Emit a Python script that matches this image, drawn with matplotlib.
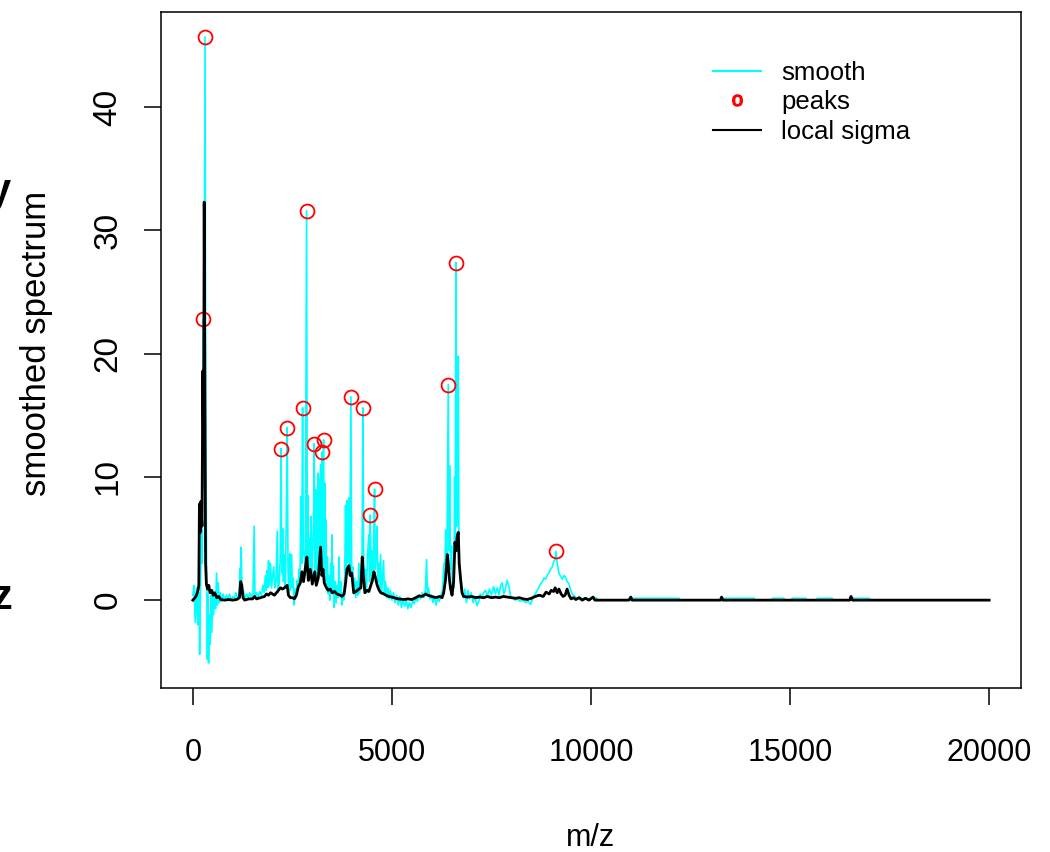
import matplotlib
matplotlib.use('Agg')
import matplotlib.pyplot as plt
from matplotlib.lines import Line2D

plt.rcParams['font.family'] = ['Liberation Sans', 'DejaVu Sans']

# smoothed spectrum (m/z, intensity)
smooth_pts = [
    (0, 0.4), (30, 1.2), (60, -1.8), (90, 1.0), (120, -2.0), (150, 0.6), (170, -4.4),
    (195, 1.8), (215, 6.5), (235, 3.0), (255, 22.8), (275, 9.0), (305, 45.7), (325, 14.0),
    (345, 2.5), (365, -4.8), (380, 0.5), (395, -5.1), (415, -1.2), (435, -3.6), (455, 0.4),
    (475, -2.6), (500, 0.8), (520, -1.2), (545, 0.5), (570, -0.7), (595, 2.2), (615, -0.4),
    (640, 1.4), (665, -0.2), (690, 0.6), (720, -0.1), (760, 0.5), (800, 0.0), (840, 0.4),
    (880, 0.1), (920, 0.5), (960, 0.0), (1000, 0.3),
    (1040, 0.1), (1080, 0.6), (1120, 0.1), (1160, 0.5), (1185, 2.6), (1200, 0.8), (1215, 4.3),
    (1235, 0.4), (1270, 0.8), (1310, 0.1), (1350, 0.5), (1390, 0.2), (1430, 0.6), (1470, 0.2),
    (1510, 0.5), (1540, 6.0), (1560, 0.3), (1600, 0.6), (1640, 0.2), (1680, 0.7), (1720, 0.4),
    (1760, 1.2), (1790, 0.6), (1820, 2.0), (1840, 0.8), (1860, 2.4), (1880, 1.0), (1900, 3.2),
    (1920, 1.2), (1950, 3.0), (1975, 1.0), (2000, 1.8),
    (2030, 2.7), (2060, 1.0), (2090, 1.6), (2120, 5.6), (2140, 0.6), (2170, 1.4), (2195, 3.5),
    (2215, 12.3), (2235, 2.2), (2255, 5.8), (2275, 1.5), (2300, 3.7), (2320, 1.0), (2345, 6.2),
    (2370, 14.0), (2390, 2.5), (2410, 0.6), (2435, 3.8), (2455, 0.8), (2480, 3.7), (2500, 1.0),
    (2520, 1.8), (2545, -0.4), (2565, 0.9), (2590, 0.2), (2615, 1.6), (2640, 0.8), (2665, 2.5),
    (2690, 1.2), (2715, 8.4), (2735, 3.0), (2756, 15.6), (2775, 4.0), (2800, 3.5), (2825, 2.0),
    (2856, 31.6), (2875, 3.5), (2890, 8.5), (2910, 2.0), (2930, 5.0), (2950, 2.5), (2970, 6.8),
    (2990, 1.5), (3010, 4.0),
    (3030, 6.0), (3048, 12.7), (3065, 2.0), (3085, 9.0), (3100, 1.6), (3120, 7.5), (3135, 2.5),
    (3150, 10.3), (3165, 3.0), (3180, 9.8), (3195, 2.4), (3210, 11.0), (3225, 3.5), (3241, 12.0),
    (3255, 3.0), (3270, 10.5), (3283, 13.0), (3300, 2.5), (3315, 9.5), (3330, 1.5), (3345, 6.5),
    (3360, 0.8), (3380, 3.5), (3400, 0.5), (3420, 2.0), (3440, 0.0), (3465, 3.0), (3480, 0.8),
    (3495, 5.3), (3510, 0.5), (3530, 2.8), (3550, -0.6), (3575, 1.5), (3600, -0.2), (3625, 1.2),
    (3650, 0.2), (3670, 3.5), (3690, 0.5), (3715, 1.5), (3740, -0.4), (3765, 0.6), (3790, 0.0),
    (3815, 2.0), (3835, 7.7), (3850, 2.5), (3870, 8.1), (3890, 3.0), (3920, 8.3), (3940, 2.5),
    (3970, 16.5), (3990, 2.0), (4015, 2.7), (4040, 0.5), (4065, 1.8), (4090, 0.2), (4115, 1.5),
    (4140, 0.4), (4170, 3.0), (4190, 0.6), (4220, 2.0), (4250, 3.5), (4271, 15.6), (4290, 3.7),
    (4310, 0.8), (4335, 2.5), (4360, 0.6), (4390, 3.8), (4420, 5.3), (4440, 1.5), (4455, 6.9),
    (4475, 2.0), (4500, 4.0), (4520, 1.5), (4545, 5.5), (4564, 9.0), (4580, 2.5), (4600, 3.5),
    (4623, 6.0), (4645, 1.5), (4665, 3.0), (4690, 0.8), (4715, 3.7), (4740, 0.5), (4765, 1.8),
    (4790, 3.2), (4810, 0.6), (4840, 1.5), (4870, 0.2), (4900, 1.0), (4930, 0.1), (4960, 0.8),
    (5000, 0.0), (5040, 0.6), (5080, -0.2), (5120, 0.4), (5160, -0.4), (5200, 0.3), (5240, -0.6),
    (5280, 0.1), (5320, -0.5), (5360, 0.0), (5400, -0.7), (5440, -0.2), (5480, -0.6), (5520, 0.0),
    (5560, -0.3), (5600, 0.2), (5640, -0.1), (5680, 0.4), (5720, 0.1), (5760, 0.6), (5800, 0.2),
    (5840, 0.8), (5870, 3.3), (5890, 0.6), (5920, 1.0), (5950, 0.1), (5990, 0.4), (6030, -0.2),
    (6070, 0.3), (6110, -0.4), (6150, 0.2), (6190, -0.1), (6230, 0.4), (6270, 0.8), (6306, 3.0),
    (6325, 1.5), (6348, 5.7), (6380, 3.0), (6415, 17.5), (6432, 4.0), (6449, 10.9), (6470, 2.5),
    (6499, 4.4), (6520, 1.0), (6540, 2.0), (6560, 1.0), (6574, 10.0), (6590, 4.0), (6605, 27.4),
    (6625, 6.0), (6645, 12.0), (6666, 19.8), (6685, 3.0), (6709, 1.7), (6750, 0.8), (6790, 0.2),
    (6830, 0.9), (6870, -0.2), (6910, 0.8), (6950, 0.1), (6990, 0.6), (7040, -0.2), (7090, 0.3),
    (7135, -0.45), (7180, -0.1), (7220, 0.5), (7260, 0.2), (7300, 0.6), (7353, 0.8), (7400, 0.3),
    (7450, 0.9), (7500, 0.4), (7550, 1.1), (7600, 0.5), (7646, 1.0), (7690, 0.4), (7730, 1.2),
    (7771, 1.4), (7810, 0.5), (7850, 0.9), (7890, 1.6), (7940, 1.1), (7980, 0.3), (8030, 0.2),
    (8090, 0.0), (8150, 0.1), (8220, -0.1), (8290, 0.0), (8360, -0.2), (8420, -0.1), (8480, -0.35),
    (8540, 0.2), (8600, 0.5), (8650, 0.8), (8700, 1.1), (8730, 1.3), (8780, 1.5), (8820, 1.8),
    (8860, 1.7), (8900, 2.0), (8940, 2.2), (8980, 2.5), (9028, 2.7), (9060, 3.1), (9095, 3.3),
    (9120, 3.96), (9150, 3.0), (9196, 2.2), (9240, 1.9), (9280, 1.7), (9320, 2.0), (9363, 1.85),
    (9400, 1.5), (9447, 1.35), (9490, 0.8), (9530, 0.5), (9600, 0.3), (9650, 0.1), (9700, 0.25),
    (9780, 0.1), (9866, 0.2), (9950, 0.05), (10050, 0.2), (10117, 0.2), (10200, 0.0),
    (11000, 0.0), (11030, 0.15), (12210, 0.15), (12230, 0.0), (13280, 0.0), (13300, 0.15),
    (14100, 0.15), (14120, 0.0), (14540, 0.0), (14550, 0.15), (14850, 0.15), (14860, 0.0),
    (15040, 0.0), (15050, 0.15), (15400, 0.15), (15410, 0.0), (15670, 0.0), (15680, 0.15),
    (16060, 0.15), (16070, 0.0), (16520, 0.0), (16530, 0.15), (16990, 0.15), (17000, 0.0),
    (20000, 0.0),
]

# local sigma (m/z, value)
sigma_pts = [
    (0, 0.0), (80, 0.3), (130, 0.8), (150, 1.2), (165, 7.8), (185, 5.5), (200, 8.0), (230, 6.0),
    (250, 18.6), (270, 12.0), (285, 32.3), (300, 18.6), (320, 3.0), (340, 1.3), (370, 0.9),
    (400, 1.2), (430, 0.6), (470, 0.8), (510, 0.4), (550, 0.6), (600, 0.2), (650, 0.3),
    (700, 0.05), (800, 0.0), (900, 0.05), (1000, 0.0), (1100, 0.05), (1170, 0.2), (1200, 1.5),
    (1230, 1.2), (1260, 0.2), (1300, 0.0), (1400, 0.1), (1500, 0.1), (1550, 0.3), (1600, 0.1),
    (1700, 0.2), (1800, 0.3), (1850, 0.5), (1900, 0.4), (1950, 0.6), (2000, 0.5), (2050, 0.4),
    (2100, 0.6), (2150, 0.8), (2200, 1.0), (2250, 0.9), (2300, 1.0), (2370, 1.2), (2400, 0.4),
    (2450, 0.2), (2500, 0.2), (2550, 0.1), (2600, 0.4), (2650, 1.1), (2700, 1.4), (2740, 2.3),
    (2780, 1.5), (2820, 2.5), (2864, 3.5), (2900, 1.6), (2950, 2.5), (3000, 1.3), (3060, 2.3),
    (3100, 1.2), (3150, 1.8), (3208, 4.3), (3240, 2.0), (3270, 2.5), (3300, 1.4), (3340, 1.1),
    (3400, 0.8), (3450, 0.9), (3500, 0.6), (3560, 0.7), (3620, 0.5), (3700, 0.4), (3745, 0.3),
    (3800, 0.5), (3840, 1.5), (3870, 2.5), (3920, 2.8), (3950, 2.0), (3990, 2.2), (4040, 0.6),
    (4100, 0.7), (4170, 0.9), (4220, 1.0), (4254, 3.5), (4280, 2.2), (4320, 0.6), (4380, 0.8),
    (4420, 0.7), (4460, 1.1), (4500, 1.5), (4548, 2.3), (4580, 1.9), (4630, 1.2), (4680, 0.8),
    (4720, 0.6), (4800, 0.5), (4850, 0.4), (4920, 0.3), (5000, 0.25), (5100, 0.15), (5170, 0.1),
    (5300, 0.05), (5400, 0.1), (5500, 0.05), (5600, 0.2), (5678, 0.35), (5760, 0.3), (5850, 0.5),
    (5900, 0.4), (6000, 0.3), (6100, 0.2), (6200, 0.3), (6260, 0.2), (6300, 0.6), (6348, 1.7),
    (6390, 3.7), (6420, 2.8), (6450, 1.5), (6474, 0.9), (6510, 0.4), (6550, 1.5), (6583, 4.7),
    (6610, 4.0), (6640, 5.2), (6666, 5.5), (6690, 3.0), (6720, 1.9), (6760, 0.6), (6800, 0.3),
    (6900, 0.25), (7000, 0.3), (7100, 0.2), (7200, 0.25), (7300, 0.2), (7400, 0.3), (7500, 0.2),
    (7600, 0.25), (7700, 0.2), (7800, 0.3), (7900, 0.25), (8000, 0.2), (8100, 0.15), (8200, 0.2),
    (8300, 0.1), (8400, 0.05), (8500, 0.15), (8600, 0.3), (8700, 0.4), (8800, 0.3), (8870, 0.65),
    (8950, 0.5), (9000, 0.8), (9060, 0.7), (9100, 1.0), (9150, 0.6), (9195, 0.9), (9250, 0.5),
    (9300, 0.3), (9350, 0.4), (9400, 0.9), (9450, 0.4), (9500, 0.1), (9560, 0.2), (9620, 0.05),
    (9700, 0.2), (9780, 0.0), (9860, 0.15), (9950, 0.0), (10050, 0.25), (10100, 0.0),
    (10950, 0.0), (11000, 0.25), (11030, 0.0), (13250, 0.0), (13280, 0.25), (13310, 0.0),
    (16500, 0.0), (16530, 0.3), (16570, 0.0), (20000, 0.0),
]

peak_mz = [255, 305, 2215, 2370, 2756, 2856, 3048, 3241, 3283, 3970, 4271, 4455, 4564,
           6415, 6605, 9120]
peak_int = [22.8, 45.7, 12.3, 14.0, 15.6, 31.6, 12.7, 12.0, 13.0, 16.5, 15.6, 6.9, 9.0,
            17.5, 27.4, 3.96]

x_ticks = [0, 5000, 10000, 15000, 20000]
y_ticks = [0, 10, 20, 30, 40]

smooth_mz, smooth_int = zip(*smooth_pts)
sigma_mz, sigma_val = zip(*sigma_pts)

fig = plt.figure(figsize=(10.5, 8.52), dpi=100)
ax = fig.add_axes([161 / 1050, 1 - 688 / 852, 860 / 1050, 676 / 852])

ax.plot(smooth_mz, smooth_int, color='cyan', lw=1.2)
ax.plot(peak_mz, peak_int, ls='none', marker='o', ms=10, mfc='none', mec='red', mew=1.3)
ax.plot(sigma_mz, sigma_val, color='black', lw=2.0)

ax.set_xlim(-800, 20800)
ax.set_ylim(-7.13, 47.73)
ax.set_xticks(x_ticks)
ax.set_yticks(y_ticks)
ax.set_xticklabels([str(v) for v in x_ticks], fontsize=22)
ax.set_yticklabels([str(v) for v in y_ticks], fontsize=24, rotation=90, va='center')
ax.tick_params(axis='x', length=12, width=1.1, pad=24)
ax.tick_params(axis='y', length=12, width=1.1, pad=15)
for s in ax.spines.values():
    s.set_linewidth(1.1)

ax.set_xlabel('m/z', fontsize=22)
ax.xaxis.set_label_coords(0.5, -0.222)
ax.xaxis.label.set_va('center')
ax.set_ylabel('smoothed spectrum', fontsize=25)
ax.yaxis.set_label_coords(-0.145, 0.51)
ax.yaxis.label.set_va('center')

handles = [
    Line2D([], [], color='cyan', lw=1.5),
    Line2D([], [], ls='none', marker='$\\mathregular{o}$', ms=8, color='red'),
    Line2D([], [], color='black', lw=1.5),
]
ax.legend(handles, ['smooth', 'peaks', 'local sigma'], loc='upper left',
          bbox_to_anchor=(0.627, 0.947), frameon=False, fontsize=18.5,
          handlelength=1.85, handletextpad=0.8, labelspacing=0.22, borderpad=0)

# cut-off letters from the neighbouring panel at the left edge
fig.text(11 / 1050, 1 - 192 / 852, 'y', fontsize=30, fontweight='bold', ha='right', va='center')
fig.text(12 / 1050, 1 - 598 / 852, 'z', fontsize=30, fontweight='bold', ha='right', va='center')

fig.savefig('out.png', dpi=100)
